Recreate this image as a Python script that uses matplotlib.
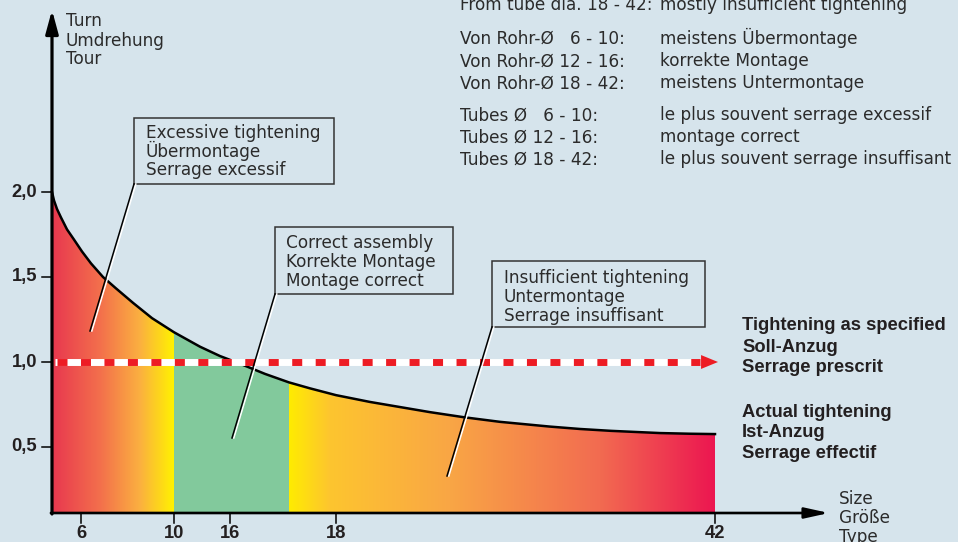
import matplotlib
matplotlib.use('Agg')
import matplotlib.pyplot as plt
import matplotlib.patheffects as pe
from matplotlib.patches import Rectangle
from matplotlib.colors import to_rgb
import numpy as np

# --- data (x positions are along the drawn size axis, y values in turns) ---
size_labels = ['6', '10', '16', '18', '42']
size_pos = [81, 174, 230, 336, 715]
turn_ticks = [0.5, 1.0, 1.5, 2.0]
turn_labels = ['0,5', '1,0', '1,5', '2,0']

curve_x = [52, 54, 57, 61, 67, 74, 82, 91, 103, 116, 133, 152, 174, 200, 220, 240, 265, 289,
           310, 336, 370, 400, 430, 464, 500, 550, 580, 611, 660, 690, 715]
curve_turn = [2.0, 1.95, 1.90, 1.85, 1.78, 1.72, 1.65, 1.58, 1.50, 1.433, 1.348, 1.258, 1.175, 1.09,
              1.035, 0.99, 0.93, 0.88, 0.845, 0.805, 0.765, 0.735, 0.705, 0.675, 0.648, 0.62,
              0.606, 0.595, 0.582, 0.578, 0.576]
specified_turn = 1.0

# zones: over-tightened | correct | under-tightened
zone_edges = [52, 174, 289, 715]

BG = '#d6e4ec'
TXT = '#2b2b2b'
RED = '#ed1c24'
GREEN = '#82c99c'
left_stops = [(52, '#e8374f'), (100, '#f36f4c'), (140, '#fbb040'), (174, '#fff200')]
right_stops = [(289, '#ffec00'), (330, '#fdc52f'), (450, '#f9a645'), (600, '#f26b51'), (715, '#ec1650')]

REG = dict(family=['DejaVu Sans'], fontsize=12.2, color=TXT)
BOLD = dict(family=['Liberation Sans', 'DejaVu Sans'], fontsize=13.2, fontweight='bold', color='#231f20')


def py(p):
    # picture row -> turn value
    return (532 - p) / 170.0


def ramp(stops, xs):
    px = [s[0] for s in stops]
    rgb = np.array([to_rgb(s[1]) for s in stops])
    return np.stack([np.interp(xs, px, rgb[:, i]) for i in range(3)], axis=-1)


fig = plt.figure(figsize=(9.58, 5.42), dpi=100)
fig.patch.set_facecolor(BG)
ax = fig.add_axes([0, 0, 1, 1])
ax.set_facecolor(BG)

base = py(513)

# gradient fill under the curve
cols = np.arange(zone_edges[0], zone_edges[3] + 1) + 0.5
img = np.zeros((1, len(cols), 3))
m1 = cols < zone_edges[1]
m2 = (cols >= zone_edges[1]) & (cols < zone_edges[2])
m3 = cols >= zone_edges[2]
img[0, m1] = ramp(left_stops, cols[m1])
img[0, m2] = to_rgb(GREEN)
img[0, m3] = ramp(right_stops, cols[m3])
im = ax.imshow(img, extent=[zone_edges[0], zone_edges[3] + 1, base, max(curve_turn) + 0.05],
               aspect='auto', interpolation='nearest', zorder=1)
poly = ax.fill_between(curve_x, base, curve_turn, facecolor='none', edgecolor='none')
im.set_clip_path(poly.get_paths()[0], transform=ax.transData)

# actual tightening curve
ax.plot(curve_x, curve_turn, color='k', lw=1.8, zorder=3, solid_joinstyle='round')

# specified tightening (dashed red/white with arrow)
ax.plot([55, 700], [specified_turn] * 2, color='white', lw=5, solid_capstyle='butt', zorder=4)
ax.plot([57, 700], [specified_turn] * 2, color=RED, lw=5, linestyle=(0, (1.44, 1.94)), zorder=4)
ax.annotate('', xy=(718, specified_turn), xytext=(699, specified_turn),
            arrowprops=dict(arrowstyle='-|>,head_length=1.22,head_width=0.5', mutation_scale=10,
                            color=RED, lw=0, shrinkA=0, shrinkB=0), zorder=4)

# axes with arrows
ax.annotate('', xy=(52, py(10)), xytext=(52, py(514)),
            arrowprops=dict(arrowstyle='-|>,head_length=1.4,head_width=0.38', mutation_scale=10,
                            color='k', lw=2.3, shrinkA=0, shrinkB=0), zorder=6)
ax.annotate('', xy=(829, base), xytext=(50.9, base),
            arrowprops=dict(arrowstyle='-|>,head_length=1.45,head_width=0.32', mutation_scale=10,
                            color='k', lw=1.9, shrinkA=0, shrinkB=0), zorder=6)

for t, lab in zip(turn_ticks, turn_labels):
    ax.plot([42, 52], [t, t], color='k', lw=1.1, zorder=6)
    ax.text(37, t, lab, ha='right', va='center', **BOLD)
for p, lab in zip(size_pos, size_labels):
    ax.plot([p, p], [base, py(523)], color='k', lw=1.1, zorder=6)
    ax.text(p, py(534), lab, ha='center', va='center', **BOLD)

# axis titles
for b, s in zip([26, 45.5, 64], ['Turn', 'Umdrehung', 'Tour']):
    ax.text(66, py(b), s, va='baseline', **REG)
for b, s in zip([504, 523, 542], ['Size', 'Größe', 'Type']):
    ax.text(839, py(b), s, va='baseline', **REG)

# callout boxes
boxes = [
    ((134, 118, 334, 184), (146, [138.3, 156.7, 175]),
     ['Excessive tightening', 'Übermontage', 'Serrage excessif'], (90, 331)),
    ((275, 227, 453, 294), (286, [248.3, 266.7, 285.7]),
     ['Correct assembly', 'Korrekte Montage', 'Montage correct'], (232, 438)),
    ((492, 261, 705, 327), (504, [283.3, 301.7, 320.7]),
     ['Insufficient tightening', 'Untermontage', 'Serrage insuffisant'], (447, 476)),
]
for (x0, y0, x1, y1), (tx, bls), lines, end in boxes:
    ax.add_patch(Rectangle((x0, py(y1)), x1 - x0, py(y0) - py(y1), fill=False,
                           ec='#333333', lw=1.1, zorder=7))
    for b, s in zip(bls, lines):
        ax.text(tx, py(b), s, va='baseline', zorder=8, **REG)
    ax.plot([x0, end[0]], [py(y1), py(end[1])], color='k', lw=1.1, zorder=7,
            path_effects=[pe.SimpleLineShadow(offset=(1.3, 0), shadow_color='white', alpha=1),
                          pe.Normal()])

# right-hand legend texts
right_lines = [(330, 'Tightening as specified'), (351.7, 'Soll-Anzug'), (371.7, 'Serrage prescrit'),
               (416.7, 'Actual tightening'), (437.3, 'Ist-Anzug'), (458.3, 'Serrage effectif')]
for b, s in right_lines:
    ax.text(742, py(b), s, va='baseline', **BOLD)

# top-right table
left_col = ['From tube dia. 18 - 42:',
            'Von Rohr-Ø   6 - 10:', 'Von Rohr-Ø 12 - 16:', 'Von Rohr-Ø 18 - 42:',
            'Tubes Ø   6 - 10:', 'Tubes Ø 12 - 16:', 'Tubes Ø 18 - 42:']
right_col = ['mostly insufficient tightening',
             'meistens Übermontage', 'korrekte Montage', 'meistens Untermontage',
             'le plus souvent serrage excessif', 'montage correct', 'le plus souvent serrage insuffisant']
table_bl = [9.5, 43.8, 66.3, 88.2, 120.5, 142.4, 164.3]
for b, l, r in zip(table_bl, left_col, right_col):
    ax.text(460, py(b), l, va='baseline', **REG)
    ax.text(660, py(b), r, va='baseline', **REG)

ax.set_xlim(0, 958)
ax.set_ylim(py(542), py(0))
ax.axis('off')

fig.savefig('out.png', dpi=100, facecolor=BG)
